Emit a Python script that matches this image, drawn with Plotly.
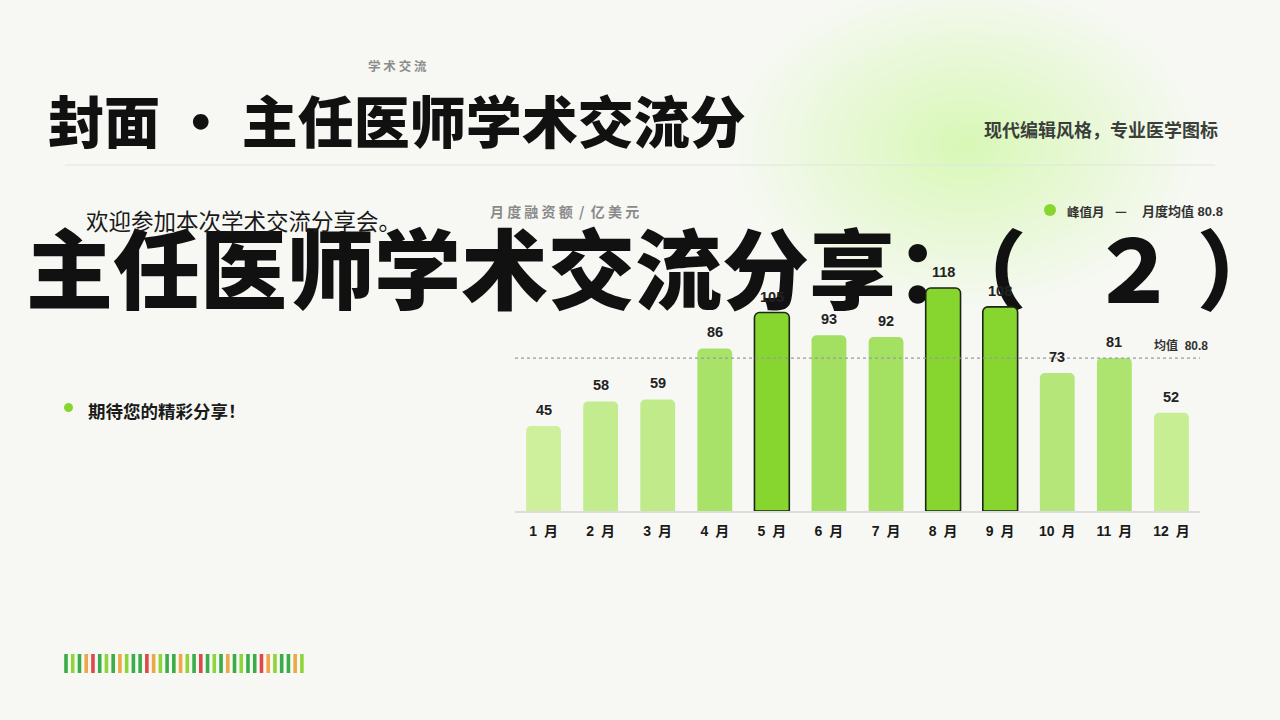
import numpy as np
import plotly.graph_objects as go

# ---------------- data ----------------
months = ["1 月", "2 月", "3 月", "4 月", "5 月", "6 月", "7 月", "8 月", "9 月", "10 月", "11 月", "12 月"]
values = [45, 58, 59, 86, 105, 93, 92, 118, 108, 73, 81, 52]
stripe_codes = ["G", "LG", "G", "O", "R", "G", "LG", "G", "O", "LG", "G", "G", "R", "O", "LG", "G", "G", "O",
                "LG", "G", "R", "G", "LG", "G", "O", "G", "LG", "G", "G", "R", "O", "LG", "G", "G", "O", "LG"]

eyebrow = "学 术 交 流"
header_title = "封面 · 主任医师学术交流分"
header_right = "现代编辑风格，专业医学图标"
welcome = "欢迎参加本次学术交流分享会。"
big_title = "主任医师学术交流分享：（\u2002 ２ ）"
bullet_text = "期待您的精彩分享！"
chart_caption = "月 度 融 资 额  /  亿 美 元"
legend_peak = "峰值月"
legend_mean = "月度均值"

# ---------------- derived ----------------
mean_val = float(np.mean(values))
peak_idx = set(np.argsort(values)[-3:].tolist())
vmin, vmax = min(values), max(values)

def lerp_color(v):
    t = (v - vmin) / (vmax - vmin)
    c0 = np.array([206, 240, 157])
    c1 = np.array([140, 215, 65])
    c = c0 + (c1 - c0) * t
    return "rgb(%d,%d,%d)" % tuple(int(round(x)) for x in c)

PEAK = "#86d62f"
bar_colors = [PEAK if i in peak_idx else lerp_color(v) for i, v in enumerate(values)]
line_colors = ["#1c2614" if i in peak_idx else "rgba(0,0,0,0)" for i in range(len(values))]
line_widths = [1.6 if i in peak_idx else 0 for i in range(len(values))]

stripe_palette = {"G": "#3aad48", "LG": "#8fd53a", "O": "#efa646", "R": "#e0474a"}

FONT = "Noto Sans CJK SC"
NUMFONT = "Liberation Sans, Noto Sans CJK SC"
BG = "#f7f8f4"

fig = go.Figure()

# base (pixel) subplot: holds the big title text, drawn beneath the bar chart
fig.add_trace(go.Scatter(
    x=[26], y=[281], mode="text", text=[big_title], textposition="middle right",
    textfont=dict(family=FONT, size=87, color="#111111", weight=900),
    xaxis="x", yaxis="y", hoverinfo="skip", showlegend=False, cliponaxis=False,
))

# bar chart
fig.add_trace(go.Bar(
    x=months, y=values, xaxis="x2", yaxis="y2",
    marker=dict(color=bar_colors, line=dict(color=line_colors, width=line_widths), cornerradius=5),
    hoverinfo="skip", showlegend=False,
))

shapes = []
annotations = []

# green glow (radial, approximated with stacked translucent ellipses)
for r in np.linspace(1.0, 0.05, 30):
    shapes.append(dict(type="circle", xref="x", yref="y", layer="below",
                       x0=965 - 235 * r, x1=965 + 235 * r, y0=145 - 165 * r, y1=145 + 165 * r,
                       fillcolor="rgba(165,215,120,0.012)", line=dict(width=0)))

# separator line
shapes.append(dict(type="line", xref="x", yref="y", x0=65, x1=1215, y0=165, y1=165,
                   line=dict(color="#e2e4de", width=1.2), layer="below"))

# mean line
shapes.append(dict(type="line", xref="x2 domain", yref="y2", x0=0, x1=1, y0=mean_val, y1=mean_val,
                   line=dict(color="#9a9a9a", width=1.2, dash="dot")))

# legend dot + bullet dot
shapes.append(dict(type="circle", xref="x", yref="y", x0=1044, x1=1056, y0=204, y1=216,
                   fillcolor=PEAK, line=dict(width=0)))
shapes.append(dict(type="circle", xref="x", yref="y", x0=64, x1=73, y0=403, y1=412,
                   fillcolor="#86d62f", line=dict(width=0)))

# decorative stripes
for i, code in enumerate(stripe_codes):
    cx = 66 + i * 6.74
    shapes.append(dict(type="rect", xref="x", yref="y", x0=cx - 1.8, x1=cx + 1.8, y0=654, y1=673,
                       fillcolor=stripe_palette[code], line=dict(width=0), layer="below"))

def ann(text, x, y, size, color, xanchor="left", weight="normal", family=FONT):
    annotations.append(dict(text=text, x=x, y=y, xref="x", yref="y", showarrow=False,
                            xanchor=xanchor, yanchor="middle",
                            font=dict(family=family, size=size, color=color, weight=weight)))

ann(eyebrow, 397, 65, 12.5, "#8c8c8c", "center", "bold")
ann(header_title, 46, 118, 56, "#111111", "left", 900)
ann(header_right, 1220, 129, 18, "#3a3f3a", "right", "bold")
ann(welcome, 84, 220, 22.5, "#1a1a1a", "left")
ann(chart_caption, 488, 211, 14, "#8a8a8a", "left", "bold")
ann(legend_peak, 1065, 211, 12.5, "#333333", "left", "bold")
ann("—", 1121, 210, 13, "#333333", "center", "bold")
ann("%s %.1f" % (legend_mean, mean_val), 1140, 211, 13, "#333333", "left", "bold", NUMFONT)
ann(bullet_text, 86, 410, 17.5, "#1a1a1a", "left", "bold")

# value labels above bars
for m, v in zip(months, values):
    annotations.append(dict(text=str(v), x=m, y=v, xref="x2", yref="y2", showarrow=False,
                            yanchor="bottom", yshift=6,
                            font=dict(family=NUMFONT, size=14.5, color="#222222", weight="bold")))

# mean label
annotations.append(dict(text="均值  %.1f" % mean_val, x=1, y=mean_val, xref="x2 domain", yref="y2",
                        showarrow=False, xanchor="right", yanchor="bottom", yshift=3, xshift=10,
                        font=dict(family=NUMFONT, size=12, color="#333333", weight="bold")))

tick_text = [m.replace(" ", "\u2002") for m in months]

fig.update_layout(
    width=1280, height=720,
    margin=dict(l=0, r=0, t=0, b=0),
    paper_bgcolor=BG, plot_bgcolor="rgba(0,0,0,0)",
    bargap=0.39,
    xaxis=dict(domain=[0, 1], range=[0, 1280], visible=False, fixedrange=True),
    yaxis=dict(domain=[0, 1], range=[720, 0], visible=False, fixedrange=True),
    xaxis2=dict(domain=[515 / 1280, 1200 / 1280], anchor="y2", showgrid=False, zeroline=False,
                showline=True, linecolor="#dcdcdc", linewidth=1.5, ticks="",
                tickmode="array", tickvals=months, ticktext=tick_text,
                tickfont=dict(family=NUMFONT, size=14, color="#1a1a1a", weight="bold"),
                ticklabelstandoff=6, fixedrange=True),
    yaxis2=dict(domain=[1 - 511 / 720, 1 - 265.3 / 720], anchor="x2", range=[0, 130],
                visible=False, showgrid=False, zeroline=False, fixedrange=True),
    shapes=shapes, annotations=annotations,
    showlegend=False,
)

fig.write_html("out.html", config={"displayModeBar": False},
               post_script="document.body.style.margin='0';document.body.style.background='%s';" % BG)
